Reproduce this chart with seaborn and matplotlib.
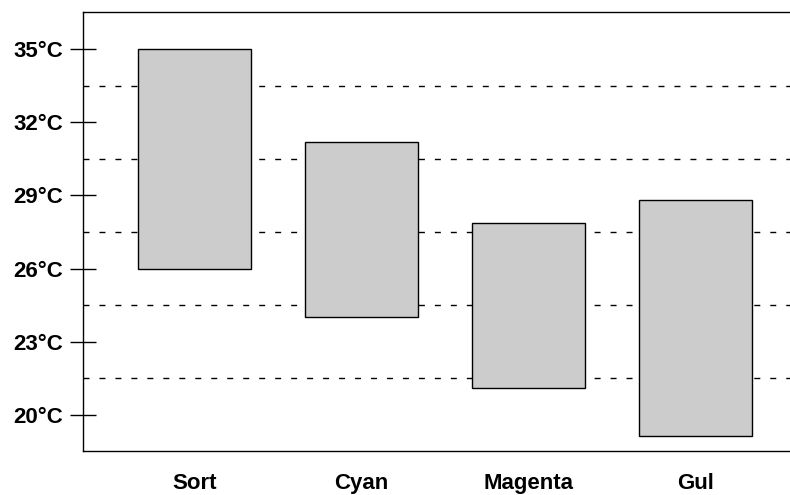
import matplotlib
matplotlib.use("Agg")
import matplotlib.pyplot as plt
import seaborn as sns
import pandas as pd

categories = ["Sort", "Cyan", "Magenta", "Gul"]
low = [26.0, 24.0, 21.1, 19.15]
high = [35.0, 31.2, 27.85, 28.8]
yticks = [20, 23, 26, 29, 32, 35]
ytick_labels = ["20°C", "23°C", "26°C", "29°C", "32°C", "35°C"]
grid_levels = [21.5, 24.5, 27.5, 30.5, 33.5]

df = pd.DataFrame({"cat": categories, "low": low, "span": [h - l for h, l in zip(high, low)]})

sns.set_theme(style="white")
plt.rcParams["font.family"] = ["Liberation Sans", "DejaVu Sans"]
plt.rcParams["text.color"] = "black"
plt.rcParams["xtick.color"] = "black"
plt.rcParams["ytick.color"] = "black"

fig = plt.figure(figsize=(7.9, 4.95), dpi=100)
ax = fig.add_axes([83 / 790, 1 - 451 / 495, (790 - 83) / 790, (451 - 12) / 495])

for g in grid_levels:
    ax.axhline(g, color="black", lw=1.0, dashes=(4.3, 7.2), zorder=1)

sns.barplot(data=df, x="cat", y="span", bottom=df["low"], order=categories,
            color="#cccccc", saturation=1, width=0.677, edgecolor="black",
            linewidth=1.0, ax=ax, zorder=2)

ax.set_ylim(18.52, 36.52)
ax.set_xlim(-0.668, (790 - 194.5) / 167)
ax.set_yticks(yticks)
ax.set_yticklabels(ytick_labels, fontsize=16, fontweight="bold", color="black")
ax.set_xticks(range(len(categories)))
ax.set_xticklabels(categories, fontsize=16, fontweight="bold", color="black")
ax.set_xlabel("")
ax.set_ylabel("")
ax.tick_params(axis="y", direction="inout", length=19, width=1.0, color="black", pad=5, left=True)
ax.tick_params(axis="x", length=0, pad=16)
for s in ["left", "top", "bottom"]:
    ax.spines[s].set_color("black")
    ax.spines[s].set_linewidth(1.0)
ax.spines["right"].set_visible(False)
ax.grid(False)

fig.savefig("out.png", dpi=100)
